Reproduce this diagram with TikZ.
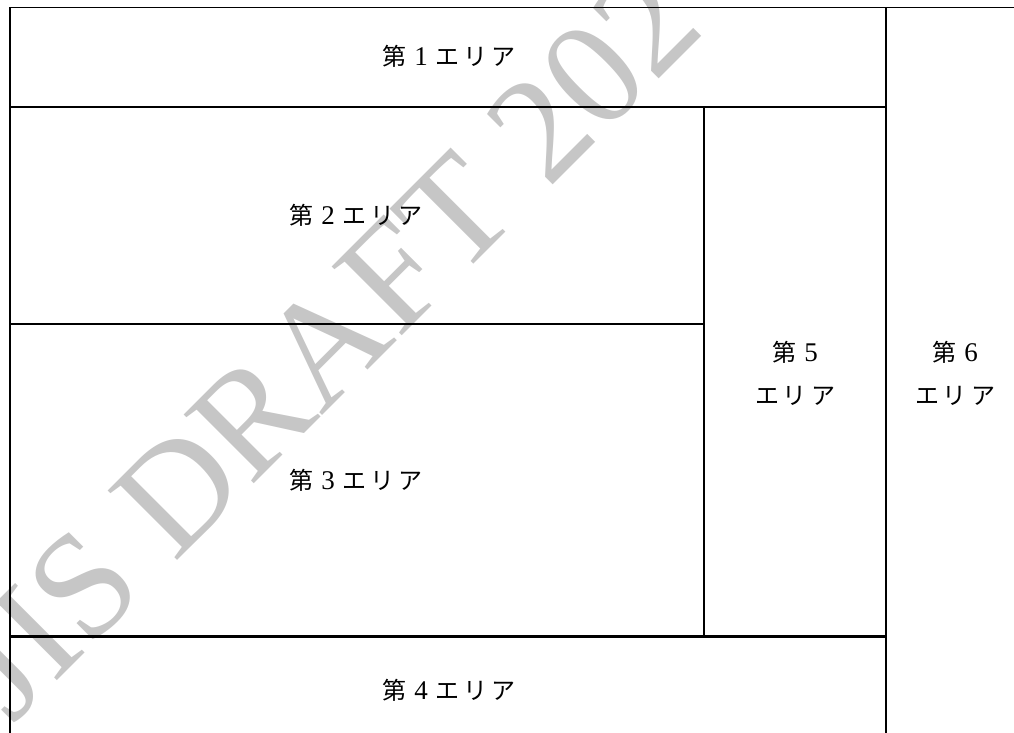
\documentclass[tikz,border=0pt]{standalone}
\usepackage{fontspec}
\newfontfamily\jpfont{Noto Sans CJK JP}
\newfontfamily\latfont{Liberation Serif}
\definecolor{wmgray}{RGB}{198,198,198}
\newcommand\dgt[1]{{\latfont\fontsize{27}{27}\selectfont #1}}
\newcommand\eria{エ\hspace{4pt}リ\hspace{4pt}ア}
\newcommand\dai[1]{第\hspace{8pt}\dgt{#1}}
\tikzset{
  area/.style={font=\jpfont\fontsize{24}{43}\selectfont, align=center, inner sep=0pt},
  wmark/.style={font=\latfont\fontsize{150}{150}\selectfont, text=wmgray, inner sep=0pt},
  thinline/.style={line width=1.4pt},
  midline/.style={line width=2pt},
  thickline/.style={line width=2.8pt},
}
\begin{document}
\begin{tikzpicture}[x=1pt,y=-1pt]
\useasboundingbox (0,0) rectangle (1014,733);
\clip (0,0) rectangle (1014,733);
% watermark
\node[wmark, rotate=45, anchor=base west] (wm) at (12,726) {JIS DRAFT 202};
% frame coordinates
\coordinate (tl) at (9.5,7.5);
\coordinate (tr) at (1014,7.5);
\coordinate (bl) at (9.5,733);
\coordinate (c6t) at (886,7.5);
\coordinate (c6b) at (886,733);
\coordinate (h1l) at (9.5,107);
\coordinate (h1r) at (886,107);
\coordinate (v5t) at (704,107);
\coordinate (v5b) at (704,636.5);
\coordinate (h2l) at (9.5,324);
\coordinate (h2r) at (704,324);
\coordinate (h4l) at (9.5,636.5);
\coordinate (h4r) at (886,636.5);
% lines
\draw[thinline] (tl) -- (tr);
\draw[midline] (tl) -- (bl);
\draw[midline] (c6t) -- (c6b);
\draw[thickline] (h1l) -- (h1r);
\draw[thinline] (v5t) -- (v5b);
\draw[midline] (h2l) -- (h2r);
\draw[thickline] (h4l) -- (h4r);
% labels
\node[area] (a1) at (449,56) {\dai{1}\hspace{8pt}\eria};
\node[area] (a2) at (356,215) {\dai{2}\hspace{8pt}\eria};
\node[area] (a3) at (356,480) {\dai{3}\hspace{8pt}\eria};
\node[area] (a4) at (449,690) {\dai{4}\hspace{8pt}\eria};
\node[area] (a5) at (795,373) {\dai{5}\\\eria};
\node[area] (a6) at (955,373) {\dai{6}\\\eria};
\end{tikzpicture}
\end{document}
